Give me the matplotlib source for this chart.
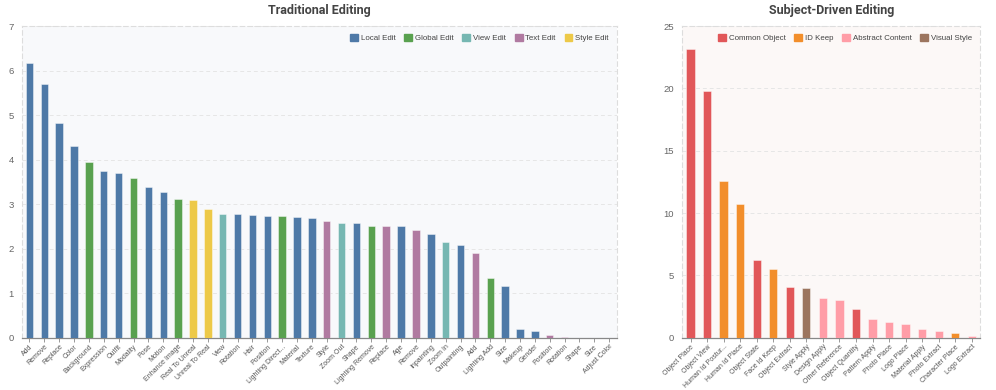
import numpy as np
import matplotlib
matplotlib.use("Agg")
from matplotlib import pyplot as plt
from matplotlib.patches import FancyBboxPatch

plt.rcParams["font.family"] = ["Liberation Sans", "DejaVu Sans"]

# Traditional Editing
trad_labels = [
	"Add", "Remove", "Replace", "Color", "Background", "Expression", "Outfit",
	"Modality", "Pose", "Motion", "Enhance Image", "Real To Unreal",
	"Unreal To Real", "View", "Rotation", "Hair", "Position", "Lighting Direct...",
	"Material", "Texture", "Style", "Zoom Out", "Shape", "Lighting Remove",
	"Replace", "Age", "Remove", "Inpainting", "Zoom In", "Outpainting", "Add",
	"Lighting Add", "Size", "Makeup", "Gender", "Position", "Rotation", "Shape",
	"Size", "Adjust Color",
]
trad_values = [
	6.18, 5.71, 4.82, 4.31, 3.94, 3.75, 3.69, 3.59, 3.38, 3.28,
	3.12, 3.10, 2.89, 2.78, 2.77, 2.75, 2.74, 2.73, 2.72, 2.70,
	2.62, 2.57, 2.57, 2.50, 2.50, 2.50, 2.41, 2.33, 2.14, 2.08,
	1.90, 1.34, 1.16, 0.19, 0.16, 0.07, 0.01, 0.0, 0.0, 0.0,
]
trad_groups = [
	"Local Edit", "Local Edit", "Local Edit", "Local Edit", "Global Edit",
	"Local Edit", "Local Edit", "Global Edit", "Local Edit", "Local Edit",
	"Global Edit", "Style Edit", "Style Edit", "View Edit", "Local Edit",
	"Local Edit", "Local Edit", "Global Edit", "Local Edit", "Local Edit",
	"Text Edit", "View Edit", "Local Edit", "Global Edit", "Text Edit",
	"Local Edit", "Text Edit", "Local Edit", "View Edit", "Local Edit",
	"Text Edit", "Global Edit", "Local Edit", "Local Edit", "Local Edit",
	"Text Edit", "Text Edit", "Local Edit", "Local Edit", "Local Edit",
]
trad_colors = {
	"Local Edit": "#4e79a7",
	"Global Edit": "#59a14f",
	"View Edit": "#76b7b2",
	"Text Edit": "#b07aa1",
	"Style Edit": "#edc948",
}

# Subject-Driven Editing
subj_labels = [
	"Object Place", "Object View", "Human Id Postur...", "Human Id Place",
	"Object State", "Face Id Keep", "Object Extract", "Style Apply",
	"Design Apply", "Other Reference", "Object Quantity", "Pattern Apply",
	"Photo Place", "Logo Place", "Material Apply", "Photo Extract",
	"Character Place", "Logo Extract",
]
subj_values = [
	23.15, 19.8, 12.56, 10.7, 6.24, 5.52, 4.06, 4.0, 3.2, 3.0,
	2.33, 1.54, 1.30, 1.14, 0.72, 0.56, 0.42, 0.13,
]
subj_groups = [
	"Common Object", "Common Object", "ID Keep", "ID Keep", "Common Object",
	"ID Keep", "Common Object", "Visual Style", "Abstract Content",
	"Abstract Content", "Common Object", "Abstract Content", "Abstract Content",
	"Abstract Content", "Abstract Content", "Abstract Content", "ID Keep",
	"Abstract Content",
]
subj_colors = {
	"Common Object": "#e15759",
	"ID Keep": "#f28e2b",
	"Abstract Content": "#ff9da7",
	"Visual Style": "#9c755f",
}


def draw_panel(ax, labels, values, groups, colors, title, ymax, step, bg):
	x = np.arange(len(labels))
	ax.set_facecolor(bg)
	ax.bar(x, values, width=0.5, color=[colors[g] for g in groups],
		edgecolor=(1, 1, 1, 0.5), linewidth=0.6, zorder=3)
	ax.set_xlim(-0.5, len(labels) - 0.5)
	ax.set_ylim(0, ymax)
	ax.set_yticks(np.arange(0, ymax + step, step))
	ax.yaxis.grid(True, color="#e6e6e6", linestyle=(0, (4, 3)), linewidth=0.7, zorder=0)
	ax.set_xticks(x)
	ax.set_xticklabels(labels, rotation=45, ha="right", rotation_mode="anchor",
		fontsize=5.0, color="#555555")
	ax.tick_params(axis="x", length=3, width=0.6, color="#888888", pad=1)
	ax.tick_params(axis="y", length=0, labelsize=6.8, labelcolor="#666666", pad=6)
	for side in ["left", "top", "right"]:
		ax.spines[side].set_color("#dddddd")
		ax.spines[side].set_linestyle((0, (4, 3)))
		ax.spines[side].set_linewidth(0.8)
	ax.spines["bottom"].set_color("#888888")
	ax.spines["bottom"].set_linewidth(0.9)
	ax.set_title(title, fontsize=9, fontweight="bold", color="#444444",
		family=["Roboto", "DejaVu Sans"], pad=9)
	handles = [FancyBboxPatch((0, 0), 1, 1, boxstyle="round,pad=0,rounding_size=0.2",
		facecolor=c, edgecolor=c, label=k) for k, c in colors.items()]
	ax.legend(handles=handles, loc="upper right", ncol=len(handles), frameon=False,
		fontsize=5.7, handlelength=1.0, handleheight=1.0, handletextpad=0.35,
		columnspacing=1.1, borderaxespad=0.6, labelcolor="#444444")


fig = plt.figure(figsize=(9.96, 3.9), dpi=100)
ax1 = fig.add_axes([0.0221, 0.134, 0.597, 0.799])
ax2 = fig.add_axes([0.685, 0.134, 0.299, 0.799])

draw_panel(ax1, trad_labels, trad_values, trad_groups, trad_colors,
	"Traditional Editing", 7, 1, "#f8f9fb")
draw_panel(ax2, subj_labels, subj_values, subj_groups, subj_colors,
	"Subject-Driven Editing", 25, 5, "#fcf8f7")

fig.savefig("out.png", dpi=100)
plt.close(fig)
